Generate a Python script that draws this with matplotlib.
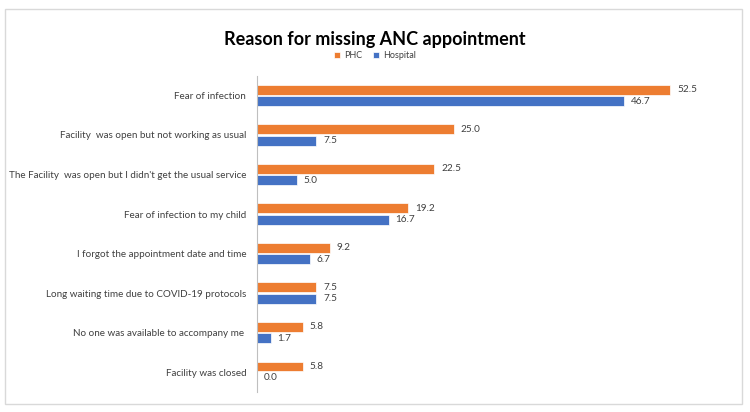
import matplotlib.pyplot as plt
import numpy as np
from matplotlib.patches import Rectangle

plt.rcParams['font.family'] = ['Lato', 'DejaVu Sans']

reasons = [
    "Fear of infection",
    "Facility  was open but not working as usual",
    "The Facility  was open but I didn't get the usual service",
    "Fear of infection to my child",
    "I forgot the appointment date and time",
    "Long waiting time due to COVID-19 protocols",
    "No one was available to accompany me ",
    "Facility was closed",
]
phc = [52.5, 25.0, 22.5, 19.2, 9.2, 7.5, 5.8, 5.8]
hospital = [46.7, 7.5, 5.0, 16.7, 6.7, 7.5, 1.7, 0.0]

orange = '#ED7D31'
blue = '#4472C4'
txt = '#404040'

fig = plt.figure(figsize=(7.5, 4.12), dpi=100)
ax = fig.add_axes([0.343, 0.0485, 0.629, 0.768])

y = np.arange(len(reasons))
h = 0.25
b1 = ax.barh(y - h / 2 - 0.02, phc, height=h, color=orange, edgecolor='white', linewidth=0.5, label='PHC')
b2 = ax.barh(y + h / 2 + 0.02, hospital, height=h, color=blue, edgecolor='white', linewidth=0.5, label='Hospital')
ax.bar_label(b1, fmt='%.1f', padding=5, fontsize=7.2, color=txt)
ax.bar_label(b2, fmt='%.1f', padding=5, fontsize=7.2, color=txt)

ax.set_xlim(0, 60)
ax.set_ylim(7.5, -0.5)
ax.set_yticks(y)
ax.set_yticklabels(reasons, fontsize=7.1, color=txt)
ax.tick_params(axis='y', length=0, pad=8)
ax.set_xticks([])
for s in ['top', 'right', 'bottom']:
    ax.spines[s].set_visible(False)
ax.spines['left'].set_color('#bfbfbf')
ax.spines['left'].set_linewidth(0.8)

fig.text(0.5, 0.905, 'Reason for missing ANC appointment', ha='center', va='center',
         fontsize=13, fontweight='bold', color='black')
fig.legend(handles=[b1, b2], loc='center', bbox_to_anchor=(0.5, 0.865), ncol=2,
           frameon=False, fontsize=6.5, handlelength=0.7, handleheight=0.7,
           handletextpad=0.4, columnspacing=1.2, labelcolor=txt)

fig.patches.append(Rectangle((0.006, 0.02), 0.983, 0.958, transform=fig.transFigure,
                             fill=False, edgecolor='#d9d9d9', linewidth=1))

plt.savefig('out.png', dpi=100)
